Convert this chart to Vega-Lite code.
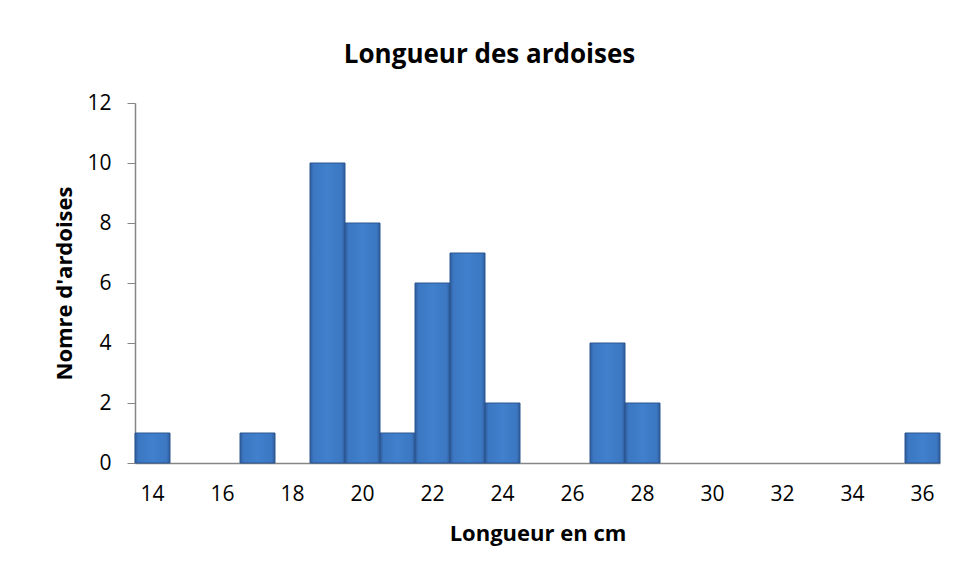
{
  "$schema": "https://vega.github.io/schema/vega-lite/v6.json",
  "width": 805,
  "height": 360,
  "autosize": {"type": "none"},
  "padding": {"left": 135, "top": 103, "right": 19, "bottom": 117},
  "background": "white",
  "title": {
    "text": "Longueur des ardoises",
    "font": "Open Sans",
    "fontSize": 26,
    "fontWeight": "bold",
    "color": "#000000",
    "anchor": "middle",
    "dx": -48,
    "offset": 24
  },
  "config": {
    "view": {"stroke": null},
    "font": "Open Sans"
  },
  "data": {
    "values": [
      {"longueur": 14, "nombre": 1},
      {"longueur": 17, "nombre": 1},
      {"longueur": 19, "nombre": 10},
      {"longueur": 20, "nombre": 8},
      {"longueur": 21, "nombre": 1},
      {"longueur": 22, "nombre": 6},
      {"longueur": 23, "nombre": 7},
      {"longueur": 24, "nombre": 2},
      {"longueur": 27, "nombre": 4},
      {"longueur": 28, "nombre": 2},
      {"longueur": 36, "nombre": 1}
    ]
  },
  "mark": {
    "type": "bar",
    "stroke": "#2B5791",
    "strokeWidth": 1,
    "color": {
      "gradient": "linear",
      "x1": 0, "y1": 0, "x2": 1, "y2": 0,
      "stops": [
        {"offset": 0, "color": "#2E5C9A"},
        {"offset": 0.1, "color": "#3C77C2"},
        {"offset": 0.5, "color": "#4080CC"},
        {"offset": 0.9, "color": "#3C77C2"},
        {"offset": 1, "color": "#2E5C9A"}
      ]
    }
  },
  "encoding": {
    "x": {
      "field": "longueur",
      "type": "ordinal",
      "scale": {
        "domain": [14,15,16,17,18,19,20,21,22,23,24,25,26,27,28,29,30,31,32,33,34,35,36],
        "paddingInner": 0,
        "paddingOuter": 0
      },
      "axis": {
        "title": "Longueur en cm",
        "titleFont": "Open Sans",
        "titleFontSize": 22,
        "titleFontWeight": "bold",
        "titleColor": "#000000",
        "titlePadding": 19,
        "labelExpr": "datum.value % 2 == 0 ? datum.label : ''",
        "labelAngle": 0,
        "labelFont": "Open Sans",
        "labelFontSize": 21,
        "labelColor": "#000000",
        "labelPadding": 20,
        "ticks": false,
        "domainColor": "#868686",
        "domainWidth": 1.5
      }
    },
    "y": {
      "field": "nombre",
      "type": "quantitative",
      "scale": {"domain": [0, 12], "nice": false},
      "axis": {
        "title": "Nomre d'ardoises",
        "titleFont": "Open Sans",
        "titleFontSize": 22,
        "titleFontWeight": "bold",
        "titleColor": "#000000",
        "titlePadding": 10,
        "values": [0, 2, 4, 6, 8, 10, 12],
        "grid": false,
        "labelFont": "Open Sans",
        "labelFontSize": 21,
        "labelColor": "#000000",
        "labelPadding": 16,
        "tickSize": 8,
        "tickColor": "#868686",
        "domainColor": "#868686",
        "domainWidth": 1.5
      }
    }
  }
}
